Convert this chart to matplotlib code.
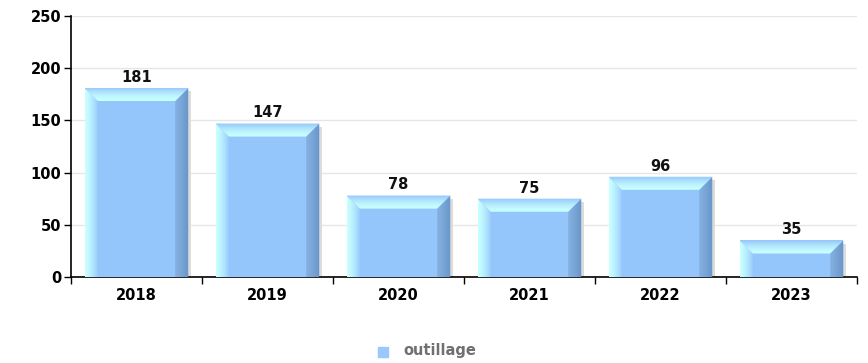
import matplotlib
matplotlib.use("Agg")
import matplotlib.pyplot as plt
from matplotlib.patches import Polygon, Rectangle
import numpy as np

# données
annees = ["2018", "2019", "2020", "2021", "2022", "2023"]
valeurs = [181, 147, 78, 75, 96, 35]
serie = "outillage"

plt.rcParams['font.family'] = 'DejaVu Sans'
plt.rcParams['font.weight'] = 'bold'

fig = plt.figure(figsize=(8.68, 3.63), dpi=100)
ax = fig.add_axes([71/868, 1-277/363, (857-71)/868, (277-16)/363])

largeur = 0.79
bx = 0.1    # biseau horizontal
by = 12.5   # biseau vertical

corps = np.array([148, 198, 252]) / 255
clair = np.array([200, 255, 255]) / 255
fonce = np.array([105, 150, 200]) / 255


def degrade(poly, c1, c2, sens, ext, gamma=1.0):
    # image en dégradé coupée par le polygone
    n = 64
    t = np.linspace(0, 1, n) ** gamma
    cols = c1[None, :] * (1 - t[:, None]) + c2[None, :] * t[:, None]
    if sens == "h":
        img = cols[None, :, :]
    else:
        img = cols[::-1][:, None, :]
    im = ax.imshow(img, extent=ext, aspect="auto", zorder=3, interpolation="bilinear")
    im.set_clip_path(poly)


for i, v in enumerate(valeurs):
    x0 = i - largeur / 2
    x1 = i + largeur / 2
    # ombre
    ax.add_patch(Rectangle((x1, 0), 0.02, v - 3, color="#dcdcdc", zorder=2, lw=0))
    ax.add_patch(Rectangle((x0, 0), largeur, v, color=corps, zorder=3, lw=0))
    p_g = Polygon([(x0, 0), (x0 + bx, 0), (x0 + bx, v - by), (x0, v)], closed=True,
                  transform=ax.transData, fill=False, lw=0)
    ax.add_patch(p_g)
    degrade(p_g, clair, corps, "h", (x0, x0 + bx, 0, v), gamma=1.4)
    p_d = Polygon([(x1, 0), (x1, v), (x1 - bx, v - by), (x1 - bx, 0)], closed=True,
                  transform=ax.transData, fill=False, lw=0)
    ax.add_patch(p_d)
    degrade(p_d, corps * 0.9, fonce, "h", (x1 - bx, x1, 0, v))
    p_h = Polygon([(x0, v), (x1, v), (x1 - bx, v - by), (x0 + bx, v - by)], closed=True,
                  transform=ax.transData, fill=False, lw=0)
    ax.add_patch(p_h)
    degrade(p_h, clair, corps, "v", (x0, x1, v - by, v), gamma=1.6)
    ax.text(i, v + 3, str(v), ha="center", va="bottom", fontsize=10.5,
            fontweight="bold", color="#111111", zorder=5)

ax.set_xlim(-0.5, len(annees) - 0.5)
ax.set_ylim(0, 250)
ax.set_yticks(range(0, 251, 50))
ax.yaxis.grid(True, color="#e6e6e6", lw=1)
ax.set_axisbelow(True)

ax.set_xticks(range(len(annees)))
ax.set_xticklabels(annees)
ax.set_xticks(np.arange(-0.5, len(annees)), minor=True)
ax.tick_params(axis="x", which="major", length=0, pad=8, labelsize=10.5)
ax.tick_params(axis="x", which="minor", length=5, width=1, direction="out")
ax.tick_params(axis="y", length=5, width=1, labelsize=10.5, pad=2)

for s in ["top", "right"]:
    ax.spines[s].set_visible(False)
ax.spines["left"].set_linewidth(1.2)
ax.spines["bottom"].set_linewidth(1.2)

# légende
fig.patches.append(Rectangle((378/868, 1-357/363), 10/868, 10/363, transform=fig.transFigure,
                             color="#99c8fd", figure=fig))
fig.text(403/868, 1-351/363, serie, fontsize=10.5, fontweight="bold", color="#707070",
         va="center", ha="left")

fig.savefig("out.png", dpi=100)
